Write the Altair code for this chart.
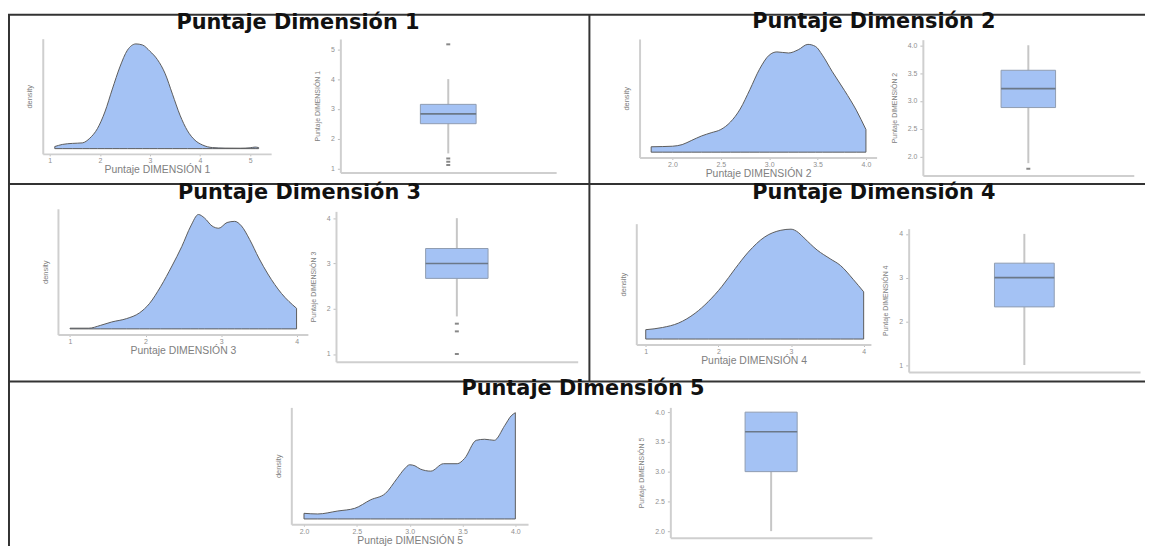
import altair as alt
import pandas as pd

# ---------------- data ----------------
TITLES = ["Puntaje Dimensión 1", "Puntaje Dimensión 2", "Puntaje Dimensión 3",
          "Puntaje Dimensión 4", "Puntaje Dimensión 5"]
VAR_LABELS = ["Puntaje DIMENSIÓN 1", "Puntaje DIMENSIÓN 2", "Puntaje DIMENSIÓN 3",
              "Puntaje DIMENSIÓN 4", "Puntaje DIMENSIÓN 5"]
DENSITY_LABEL = "density"

# density curves (score, relative density)
DENS1_X = [1.10, 1.25, 1.45, 1.65, 1.80, 1.95, 2.10, 2.25, 2.40, 2.55, 2.72, 2.85, 3.00,
           3.15, 3.30, 3.45, 3.60, 3.75, 3.90, 4.05, 4.25, 4.50, 4.80, 5.00, 5.10, 5.17]
DENS1_Y = [0.02, 0.04, 0.05, 0.055, 0.10, 0.19, 0.35, 0.57, 0.78, 0.94, 1.00, 0.99, 0.93,
           0.85, 0.72, 0.52, 0.32, 0.17, 0.08, 0.035, 0.01, 0.005, 0.004, 0.008, 0.015, 0.01]

DENS2_X = [1.78, 1.90, 2.00, 2.10, 2.20, 2.30, 2.40, 2.50, 2.60, 2.70, 2.80, 2.90, 3.00,
           3.08, 3.20, 3.30, 3.40, 3.48, 3.55, 3.65, 3.78, 3.90, 4.00]
DENS2_Y = [0.05, 0.052, 0.055, 0.07, 0.11, 0.15, 0.18, 0.21, 0.28, 0.40, 0.58, 0.77, 0.90,
           0.93, 0.92, 0.95, 1.00, 0.98, 0.90, 0.75, 0.57, 0.39, 0.21]

DENS3_X = [1.00, 1.25, 1.40, 1.55, 1.75, 1.92, 2.05, 2.20, 2.35, 2.48, 2.60, 2.70, 2.78,
           2.88, 2.97, 3.08, 3.18, 3.27, 3.38, 3.50, 3.62, 3.80, 4.00]
DENS3_Y = [0.006, 0.006, 0.03, 0.06, 0.09, 0.14, 0.22, 0.37, 0.55, 0.72, 0.90, 1.00, 0.97,
           0.90, 0.88, 0.93, 0.94, 0.90, 0.78, 0.62, 0.48, 0.31, 0.18]

DENS4_X = [1.00, 1.23, 1.45, 1.68, 1.86, 2.05, 2.23, 2.41, 2.64, 2.86, 3.00, 3.10, 3.18,
           3.36, 3.54, 3.68, 3.86, 4.00]
DENS4_Y = [0.085, 0.105, 0.145, 0.235, 0.34, 0.48, 0.64, 0.79, 0.93, 0.99, 1.00, 0.97, 0.92,
           0.81, 0.73, 0.67, 0.54, 0.43]

DENS5_X = [2.00, 2.13, 2.32, 2.48, 2.63, 2.77, 2.88, 2.95, 3.00, 3.05, 3.10, 3.20, 3.32,
           3.45, 3.52, 3.63, 3.71, 3.80, 3.90, 3.96, 4.00]
DENS5_Y = [0.053, 0.047, 0.075, 0.10, 0.18, 0.24, 0.38, 0.47, 0.51, 0.50, 0.47, 0.45, 0.52,
           0.52, 0.57, 0.74, 0.75, 0.74, 0.88, 0.97, 1.00]

DENS_X = [DENS1_X, DENS2_X, DENS3_X, DENS4_X, DENS5_X]
DENS_Y = [DENS1_Y, DENS2_Y, DENS3_Y, DENS4_Y, DENS5_Y]

# box plot summaries
Q1 = [2.50, 2.88, 2.67, 2.33, 3.00]
MEDIAN = [2.83, 3.22, 3.00, 3.00, 3.67]
Q3 = [3.15, 3.55, 3.33, 3.33, 4.00]
WHISKER_LO = [1.50, 1.88, 1.83, 1.00, 2.00]
WHISKER_HI = [4.00, 4.00, 4.00, 4.00, 4.00]
OUTLIERS = [[1.11, 1.22, 1.33, 5.17], [1.78], [1.00, 1.50, 1.67], [], []]

TICKS = [[1, 2, 3, 4, 5], [2.0, 2.5, 3.0, 3.5, 4.0], [1, 2, 3, 4], [1, 2, 3, 4],
         [2.0, 2.5, 3.0, 3.5, 4.0]]
TICK_FORMATS = ["d", ".1f", "d", "d", ".1f"]

# ---------------- layout (page pixels) ----------------
W, H = 1145, 540
OX, OY = 8, 8
# density panels: left, right, top, bottom, x-domain min, x-domain max
DENS_PANELS = [(43, 273, 37, 153, 0.86, 5.42),
               (644, 882.7, 37.3, 156.7, 1.66, 4.11),
               (58.3, 310, 208.3, 335, 0.84, 4.15),
               (640.7, 877, 223.3, 345, 0.87, 4.10),
               (293.3, 531.7, 408.3, 526, 1.88, 4.12)]
# box panels: left, right, top, bottom, y-domain min, y-domain max
BOX_PANELS = [(342.7, 560, 37.3, 171.7, 0.86, 5.35),
              (929.3, 1141.7, 38, 174.7, 1.66, 4.10),
              (338.3, 581.7, 210.9, 362.3, 0.83, 4.15),
              (915, 1148, 228.3, 372.7, 0.84, 4.12),
              (675, 878, 408.3, 539.5, 1.89, 4.08)]
TITLE_POS = [(300, 27.7), (880, 26.7), (301.5, 198.3), (880, 198.3), (587, 396)]

FILL = "#a4c2f4"
OUTLINE = "#5c5c5c"
AXIS_GREY = "#cfcfcf"
BORDER = "#333333"

AX = dict(domainColor=AXIS_GREY, domainWidth=2, tickColor="#bdbdbd", tickWidth=1,
          labelColor="#8f8f8f", labelFont="Liberation Sans", labelFontSize=7,
          titleColor="#808080", titleFont="Liberation Sans", titleFontWeight="normal",
          grid=False, labelFlush=False)


def cx(v):
    return v - OX


def cy(v):
    return v - OY


def density_panel(i):
    L, R, T, B, lo, hi = DENS_PANELS[i]
    df = pd.DataFrame({"score": DENS_X[i], "dens": DENS_Y[i]})
    xs = alt.Scale(domain=[lo, hi], range=[cx(L), cx(R)], nice=False, zero=False)
    ys = alt.Scale(domain=[-0.05, 1.05], range=[cy(B), cy(T)], nice=False, zero=False)
    xa = alt.Axis(orient="bottom", offset=cy(B) - H, values=TICKS[i], format=TICK_FORMATS[i],
                  title=VAR_LABELS[i], titleFontSize=10.5, titlePadding=1,
                  tickSize=2, labelPadding=1, **AX)
    ya = alt.Axis(orient="left", offset=-cx(L), ticks=False, labels=False,
                  title=DENSITY_LABEL, titleFontSize=7.5, titlePadding=9, **AX)
    return alt.Chart(df).mark_area(color=FILL, stroke=OUTLINE, strokeWidth=1,
                                   interpolate="monotone").encode(
        x=alt.X("score:Q", scale=xs, axis=xa),
        y=alt.Y("dens:Q", scale=ys, axis=ya),
        y2=alt.datum(0),
    )


def box_panel(i):
    L, R, T, B, lo, hi = BOX_PANELS[i]
    xs = alt.Scale(domain=[0.4, 1.6], range=[cx(L), cx(R)], nice=False, zero=False)
    ys = alt.Scale(domain=[lo, hi], range=[cy(B), cy(T)], nice=False, zero=False)
    xa = alt.Axis(orient="bottom", offset=cy(B) - H, ticks=False, labels=False, title=None, **AX)
    ya = alt.Axis(orient="left", offset=-cx(L), values=TICKS[i], format=TICK_FORMATS[i],
                  title=VAR_LABELS[i], titleFontSize=7, titlePadding=10,
                  tickSize=3, labelPadding=3, **AX)
    stats = pd.DataFrame({"q1": [Q1[i]], "med": [MEDIAN[i]], "q3": [Q3[i]],
                          "lo": [WHISKER_LO[i]], "hi": [WHISKER_HI[i]]})
    base = alt.Chart(stats)
    half = 0.155
    whisk = base.mark_rule(color="#c6c6c6", strokeWidth=2).encode(
        x=alt.X(datum=1.0, type="quantitative", scale=xs, axis=xa),
        y=alt.Y("lo:Q", scale=ys, axis=ya),
        y2="hi:Q",
    )
    box = base.mark_rect(color=FILL, stroke="#8f9cb0", strokeWidth=1).encode(
        x=alt.X(datum=1.0 - half, type="quantitative", scale=xs, axis=xa),
        x2=alt.datum(1.0 + half),
        y=alt.Y("q1:Q", scale=ys, axis=ya),
        y2="q3:Q",
    )
    med = base.mark_rule(color="#6b7888", strokeWidth=1.6).encode(
        x=alt.X(datum=1.0 - half, type="quantitative", scale=xs, axis=xa),
        x2=alt.datum(1.0 + half),
        y=alt.Y("med:Q", scale=ys, axis=ya),
    )
    parts = [whisk, box, med]
    if OUTLIERS[i]:
        out = alt.Chart(pd.DataFrame({"v": OUTLIERS[i]})).mark_tick(
            orient="horizontal", color="#555555", size=4, thickness=2).encode(
            x=alt.X(datum=1.0, type="quantitative", scale=xs, axis=xa),
            y=alt.Y("v:Q", scale=ys, axis=ya),
        )
        parts.append(out)
    return alt.layer(*parts)


def title_text(i):
    x, y = TITLE_POS[i]
    return alt.Chart(pd.DataFrame({"t": [TITLES[i]]})).mark_text(
        font="DejaVu Sans", fontSize=21, fontWeight="bold", color="#111111",
        align="center", baseline="alphabetic").encode(
        text="t:N", x=alt.value(cx(x)), y=alt.value(cy(y)))


one = pd.DataFrame({"k": [0]})


def hline(y, x0, x1):
    return alt.Chart(one).mark_rule(color=BORDER, strokeWidth=2).encode(
        x=alt.value(cx(x0)), x2=alt.value(cx(x1)), y=alt.value(cy(y)))


def vline(x, y0, y1):
    return alt.Chart(one).mark_rule(color=BORDER, strokeWidth=2).encode(
        x=alt.value(cx(x)), y=alt.value(cy(y0)), y2=alt.value(cy(y1)))


layers = [
    hline(13, 8, 1153),
    hline(183.3, 8, 1153),
    hline(382.3, 8, 1153),
    vline(9, 13, 548),
    vline(593.5, 13, 382.3),
]
for i in range(5):
    layers.append(density_panel(i))
    layers.append(box_panel(i))
    layers.append(title_text(i))

chart = alt.layer(*layers).resolve_scale(
    x="independent", y="independent"
).resolve_axis(
    x="independent", y="independent"
).properties(
    width=W, height=H, autosize=alt.AutoSizeParams(type="none"), padding=0,
    background="white",
).configure_view(stroke=None)

chart.save("out.html", embed_options={"renderer": "svg", "actions": False})
